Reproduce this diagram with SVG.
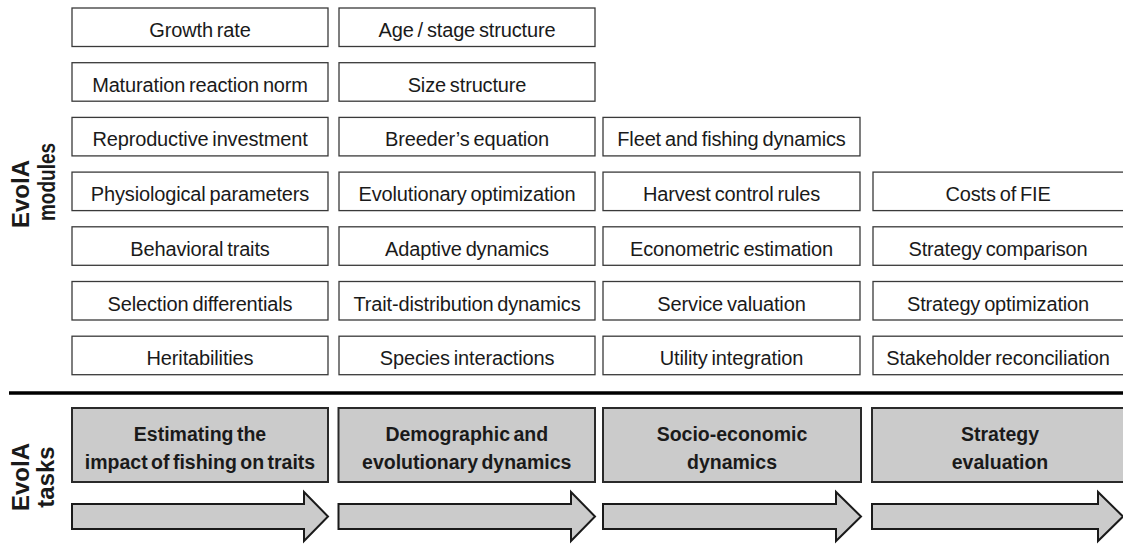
<svg xmlns="http://www.w3.org/2000/svg" width="1123" height="546" viewBox="0 0 1123 546">
  <style>
    .mod rect { fill: #ffffff; stroke: #3a3a3a; stroke-width: 1.3; }
    .mod text { font-family: "Liberation Sans", Arial, sans-serif; font-size: 20px; fill: #1a1a1a; text-anchor: middle; word-spacing: -1.5px; letter-spacing: -0.15px; }
    .task rect { fill: #cbcbcb; stroke: #2a2a2a; stroke-width: 2; }
    .task text { font-family: "Liberation Sans", Arial, sans-serif; font-size: 19.5px; font-weight: bold; fill: #1a1a1a; text-anchor: middle; word-spacing: -2px; }
    .arrow { fill: #cbcbcb; stroke: #1a1a1a; stroke-width: 2; stroke-linejoin: miter; }
    .side { font-family: "Liberation Sans", Arial, sans-serif; font-size: 24px; font-weight: bold; fill: #1a1a1a; text-anchor: middle; }
  </style>
  <rect width="1123" height="546" fill="#ffffff"/>

  <!-- side labels -->
  <g id="label-modules">
    <text class="side" transform="translate(29,194) rotate(-90)">EvolA</text>
    <text class="side" transform="translate(55,182) rotate(-90)" textLength="78" lengthAdjust="spacingAndGlyphs">modules</text>
  </g>
  <g id="label-tasks">
    <text class="side" transform="translate(29,477) rotate(-90)">EvolA</text>
    <text class="side" transform="translate(54,477) rotate(-90)">tasks</text>
  </g>

  <!-- column 1 modules -->
  <g id="m-growth-rate" class="mod"><rect x="72" y="8" width="256" height="38.5"/><text x="200" y="37">Growth rate</text></g>
  <g id="m-maturation" class="mod"><rect x="72" y="62.7" width="256" height="38.5"/><text x="200" y="91.7">Maturation reaction norm</text></g>
  <g id="m-reproductive" class="mod"><rect x="72" y="117.4" width="256" height="38.5"/><text x="200" y="146.4">Reproductive investment</text></g>
  <g id="m-physiological" class="mod"><rect x="72" y="172.1" width="256" height="38.5"/><text x="200" y="201.1">Physiological parameters</text></g>
  <g id="m-behavioral" class="mod"><rect x="72" y="226.8" width="256" height="38.5"/><text x="200" y="255.8">Behavioral traits</text></g>
  <g id="m-selection" class="mod"><rect x="72" y="281.5" width="256" height="38.5"/><text x="200" y="310.5">Selection differentials</text></g>
  <g id="m-heritabilities" class="mod"><rect x="72" y="336.2" width="256" height="38.5"/><text x="200" y="365.2">Heritabilities</text></g>

  <!-- column 2 modules -->
  <g id="m-age-stage" class="mod"><rect x="339" y="8" width="256" height="38.5"/><text x="467" y="37">Age / stage structure</text></g>
  <g id="m-size" class="mod"><rect x="339" y="62.7" width="256" height="38.5"/><text x="467" y="91.7">Size structure</text></g>
  <g id="m-breeders" class="mod"><rect x="339" y="117.4" width="256" height="38.5"/><text x="467" y="146.4">Breeder’s equation</text></g>
  <g id="m-evo-opt" class="mod"><rect x="339" y="172.1" width="256" height="38.5"/><text x="467" y="201.1">Evolutionary optimization</text></g>
  <g id="m-adaptive" class="mod"><rect x="339" y="226.8" width="256" height="38.5"/><text x="467" y="255.8">Adaptive dynamics</text></g>
  <g id="m-trait-dist" class="mod"><rect x="339" y="281.5" width="256" height="38.5"/><text x="467" y="310.5">Trait-distribution dynamics</text></g>
  <g id="m-species" class="mod"><rect x="339" y="336.2" width="256" height="38.5"/><text x="467" y="365.2">Species interactions</text></g>

  <!-- column 3 modules -->
  <g id="m-fleet" class="mod"><rect x="603" y="117.4" width="257" height="38.5"/><text x="731.5" y="146.4">Fleet and fishing dynamics</text></g>
  <g id="m-harvest" class="mod"><rect x="603" y="172.1" width="257" height="38.5"/><text x="731.5" y="201.1">Harvest control rules</text></g>
  <g id="m-econometric" class="mod"><rect x="603" y="226.8" width="257" height="38.5"/><text x="731.5" y="255.8">Econometric estimation</text></g>
  <g id="m-service" class="mod"><rect x="603" y="281.5" width="257" height="38.5"/><text x="731.5" y="310.5">Service valuation</text></g>
  <g id="m-utility" class="mod"><rect x="603" y="336.2" width="257" height="38.5"/><text x="731.5" y="365.2">Utility integration</text></g>

  <!-- column 4 modules -->
  <g id="m-costs" class="mod"><rect x="873" y="172.1" width="254" height="38.5"/><text x="998" y="201.1">Costs of FIE</text></g>
  <g id="m-strat-comp" class="mod"><rect x="873" y="226.8" width="254" height="38.5"/><text x="998" y="255.8">Strategy comparison</text></g>
  <g id="m-strat-opt" class="mod"><rect x="873" y="281.5" width="254" height="38.5"/><text x="998" y="310.5">Strategy optimization</text></g>
  <g id="m-stakeholder" class="mod"><rect x="873" y="336.2" width="254" height="38.5"/><text x="998" y="365.2">Stakeholder reconciliation</text></g>

  <!-- separator between modules and tasks -->
  <line x1="9" y1="393" x2="1123" y2="393" stroke="#000000" stroke-width="3.5"/>

  <!-- tasks -->
  <g id="t-impact" class="task"><rect x="72" y="408" width="256" height="74"/><text x="200" y="441">Estimating the</text><text x="200" y="468.5">impact of fishing on traits</text></g>
  <g id="t-demographic" class="task"><rect x="338.5" y="408" width="256.5" height="74"/><text x="466.75" y="441">Demographic and</text><text x="466.75" y="468.5">evolutionary dynamics</text></g>
  <g id="t-socio" class="task"><rect x="603" y="408" width="258" height="74"/><text x="732" y="441">Socio-economic</text><text x="732" y="468.5">dynamics</text></g>
  <g id="t-strategy" class="task"><rect x="872" y="408" width="256" height="74"/><text x="1000" y="441">Strategy</text><text x="1000" y="468.5">evaluation</text></g>

  <!-- flow arrows -->
  <g id="connectors">
    <path class="arrow" d="M72,504 H304 V492 L328,516.5 L304,541 V529 H72 Z"/>
    <path class="arrow" d="M338.5,504 H571 V492 L595,516.5 L571,541 V529 H338.5 Z"/>
    <path class="arrow" d="M603,504 H836 V492 L861,516.5 L836,541 V529 H603 Z"/>
    <path class="arrow" d="M872,504 H1098 V492 L1123,516.5 L1098,541 V529 H872 Z"/>
  </g>
</svg>
